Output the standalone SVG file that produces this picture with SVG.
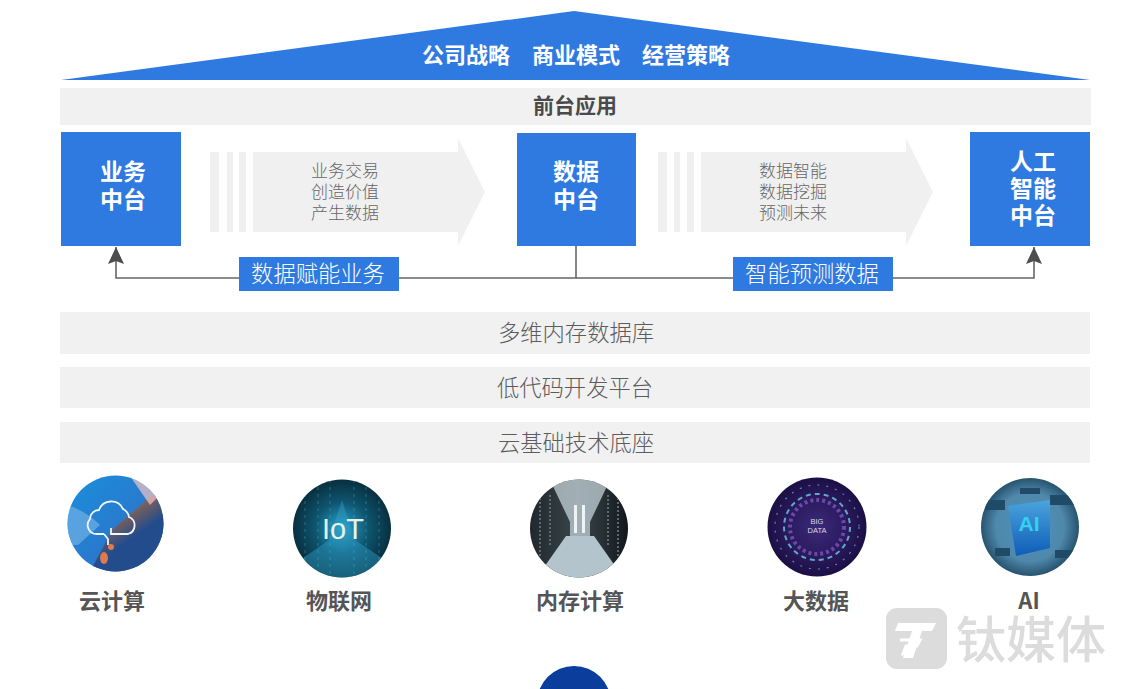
<svg xmlns="http://www.w3.org/2000/svg" width="1125" height="689" viewBox="0 0 1125 689">
<style>
text{font-family:"Noto Sans CJK SC","Noto Sans",sans-serif;text-anchor:middle}
.blue{fill:#2f7ae0}
.band{fill:#f1f1f1}
.bt{font-size:22.300px;fill:#5c5c5c;font-weight:300}
.nt{font-size:23px;font-weight:700;fill:#fff}
.rt{font-size:22px;font-weight:700;fill:#fff}
.at{font-size:17px;fill:#666;font-weight:300}
.lt{font-size:22.300px;fill:#fff;font-weight:300}
.ct{font-size:22px;font-weight:700;fill:#555}
.ln{fill:none;stroke:#666;stroke-width:1.6}
.ar{fill:#f0f0f0}
.lat{font-family:"Liberation Sans",sans-serif}
</style>
<defs>
<marker id="ah" markerWidth="18" markerHeight="16" refX="17" refY="8" orient="auto" markerUnits="userSpaceOnUse"><path d="M0 0L17 8L0 16L3 8Z" fill="#4d4d4d"/></marker>
<linearGradient id="g1" x1="0" y1="0" x2="1" y2="1"><stop offset="0" stop-color="#1a8fdc"/><stop offset=".6" stop-color="#2a78cc"/><stop offset="1" stop-color="#1d5aa6"/></linearGradient>
<linearGradient id="g1b" x1="0" y1="0" x2=".6" y2="1"><stop offset="0" stop-color="#f6b25a"/><stop offset=".3" stop-color="#c8702c"/><stop offset=".7" stop-color="#234c8c"/><stop offset="1" stop-color="#234c8c"/></linearGradient>
<radialGradient id="g2"><stop offset="0" stop-color="#2da6cf"/><stop offset=".55" stop-color="#0f5570"/><stop offset="1" stop-color="#08303f"/></radialGradient>
<linearGradient id="g3" x1="0" y1="0" x2="1" y2="0"><stop offset="0" stop-color="#20282c"/><stop offset=".5" stop-color="#3a474d"/><stop offset="1" stop-color="#12171a"/></linearGradient>
<radialGradient id="g4"><stop offset="0" stop-color="#3a2a78"/><stop offset=".6" stop-color="#2b1a5e"/><stop offset="1" stop-color="#1c0f44"/></radialGradient>
<radialGradient id="g5"><stop offset="0" stop-color="#4a94c4"/><stop offset=".7" stop-color="#4f88aa"/><stop offset="1" stop-color="#27536f"/></radialGradient>
<linearGradient id="g6" x1="0" y1="0" x2="0" y2="1"><stop offset="0" stop-color="#4aa5dc"/><stop offset="1" stop-color="#0f5cb8"/></linearGradient>
<clipPath id="c1"><circle cx="115.500" cy="523.500" r="48"/></clipPath>
<clipPath id="c2"><circle cx="342" cy="528.500" r="49"/></clipPath>
<clipPath id="c3"><circle cx="579" cy="528.500" r="49"/></clipPath>
<clipPath id="c5"><circle cx="1030" cy="527" r="49"/></clipPath>
</defs>
<rect width="1125" height="689" fill="#fff"/>
<g id="roof"><path class="blue" d="M61 80L574 11L1090 80Z"/><text class="rt" x="466" y="63">公司战略</text><text class="rt" x="576" y="63">商业模式</text><text class="rt" x="686" y="63">经营策略</text></g>
<g id="front"><rect class="band" x="60" y="88" width="1031" height="37"/><text x="575" y="113" font-size="21" font-weight="700" fill="#4a4a4a">前台应用</text></g>
<g id="connectors">
<path class="ln" d="M576 246V278H116V247" marker-end="url(#ah)"/>
<path class="ln" d="M576 278H1034V247" marker-end="url(#ah)"/>
</g>
<g id="biz"><rect class="blue" x="61" y="132" width="120" height="114"/><text class="nt" x="123" y="180">业务</text><text class="nt" x="123" y="208">中台</text></g>
<g id="data"><rect class="blue" x="517" y="133" width="119" height="113"/><text class="nt" x="576" y="180">数据</text><text class="nt" x="576" y="208">中台</text></g>
<g id="ai"><rect class="blue" x="970" y="132" width="120" height="114"/><text class="nt" x="1033" y="170">人工</text><text class="nt" x="1033" y="197">智能</text><text class="nt" x="1033" y="224">中台</text></g>
<g id="arrow1"><path class="ar" d="M210 152h9v80h-9zM227 152h6v80h-6zM239 152h7v80h-7zM253 152H458V138L485 192L458 246V232H253Z"/><text class="at" x="345" y="177">业务交易</text><text class="at" x="345" y="198">创造价值</text><text class="at" x="345" y="219">产生数据</text></g>
<g id="arrow2"><path class="ar" d="M658 152h9v80h-9zM674 152h6v80h-6zM687 152h7v80h-7zM701 152H906V138L933 192L906 246V232H701Z"/><text class="at" x="793" y="177">数据智能</text><text class="at" x="793" y="198">数据挖掘</text><text class="at" x="793" y="219">预测未来</text></g>
<g id="label1"><rect class="blue" x="239" y="257" width="160" height="34"/><text class="lt" x="318" y="282">数据赋能业务</text></g>
<g id="label2"><rect class="blue" x="733" y="257" width="160" height="34"/><text class="lt" x="812" y="282">智能预测数据</text></g>
<g id="db"><rect class="band" x="60" y="312" width="1030" height="42"/><text class="bt" x="576" y="341">多维内存数据库</text></g>
<g id="lowcode"><rect class="band" x="60" y="367" width="1030" height="41"/><text class="bt" x="575" y="396">低代码开发平台</text></g>
<g id="cloud"><rect class="band" x="60" y="422" width="1030" height="41"/><text class="bt" x="576" y="451">云基础技术底座</text></g>
<g id="c-cloud"><circle cx="115.500" cy="523.500" r="48" fill="url(#g1)"/><g clip-path="url(#c1)"><path d="M112 530L170 480V572H90Z" fill="url(#g1b)"/><path d="M130 476L165 490L150 505Z" fill="#f3c4c4" opacity=".7"/><path d="M66 505Q85 510 100 525L78 545H66Z" fill="#7fb8e8" opacity=".6"/><ellipse cx="104" cy="558" rx="4" ry="6" fill="#e07850"/><ellipse cx="111" cy="547" rx="3" ry="3" fill="#e07850"/></g><path fill="none" stroke="#eef6ff" stroke-width="1.800" d="M104 534h-7a9 9 0 0 1 -7-15a9 9 0 0 1 9-9a13 13 0 0 1 24-1a11 11 0 0 1 6 8a9 9 0 0 1 -1 17h-17v-6M104 534l4 5v6"/><text class="ct" x="112" y="609">云计算</text></g>
<g id="c-iot"><circle cx="342" cy="528.500" r="49" fill="url(#g2)"/><g clip-path="url(#c2)"><path d="M342 500L355 540L385 560V578H300V560L329 540Z" fill="#2f9fc8" opacity=".45"/><path d="M305 480V575M318 480V575M330 480V575M354 480V575M366 480V575M379 480V575" stroke="#4fb4d4" stroke-width=".8" stroke-dasharray="3 4" opacity=".5"/></g><text class="lat" x="343" y="539" font-size="29" fill="#e4f3ea">IoT</text><text class="ct" x="339" y="609">物联网</text></g>
<g id="c-mem"><circle cx="579" cy="528.500" r="49" fill="url(#g3)"/><g clip-path="url(#c3)"><path d="M550 480H610L590 522V536H570V522Z" fill="#c4d2d8" opacity=".75"/><path d="M574 505h3v28h-3zM582 505h3v28h-3z" fill="#eef4f6"/><path d="M566 536H594L625 580H535Z" fill="#b4c4cc"/><path d="M540 490V560M550 495V545M608 495V545M618 490V560" stroke="#5b6a70" stroke-width="2" stroke-dasharray="2 2"/></g><text class="ct" x="580" y="609">内存计算</text></g>
<g id="c-big"><circle cx="817" cy="527" r="49.500" fill="url(#g4)"/><circle cx="817" cy="527" r="27" fill="none" stroke="#6a4aa8" stroke-width="4" stroke-dasharray="3 3"/><circle cx="817" cy="527" r="33" fill="none" stroke="#5fa8c8" stroke-width="2" stroke-dasharray="5 4"/><circle cx="817" cy="527" r="42" fill="none" stroke="#4a8fb0" stroke-width="1.200" stroke-dasharray="2 7"/><text class="lat" x="817" y="524" font-size="7.500" fill="#d8d8e8">BIG</text><text class="lat" x="817" y="533" font-size="7.500" fill="#d8d8e8">DATA</text><text class="ct" x="816" y="609">大数据</text></g>
<g id="c-ai"><circle cx="1030" cy="527" r="49" fill="url(#g5)"/><g clip-path="url(#c5)"><path d="M985 500H1005V510H985ZM1050 495H1075V505H1050ZM995 548H1010V556H995ZM1055 550H1075V558H1055ZM1020 488H1040V494H1020Z" fill="#1f4a68"/><path d="M1008 506L1050 500V548L1016 556Z" fill="url(#g6)"/></g><text class="lat" x="1029" y="531" font-size="21" font-weight="700" fill="#35d0ee">AI</text><text class="ct" x="1029" y="609">AI</text></g>
<g id="wm"><rect x="886" y="608" width="61" height="61" rx="11" fill="#dcdcdc"/><path d="M898 623H936L932 631H922L913 658H903L912 631H895Z" fill="#fff"/><path d="M900 640H920L917 646H906L903 654H914" fill="none" stroke="#fff" stroke-width="3"/><text x="1031" y="658" font-size="50" font-weight="500" fill="#dcdcdc">钛媒体</text></g>
<circle id="dot" cx="574" cy="703" r="37" fill="#0b3d9c"/>
</svg>
